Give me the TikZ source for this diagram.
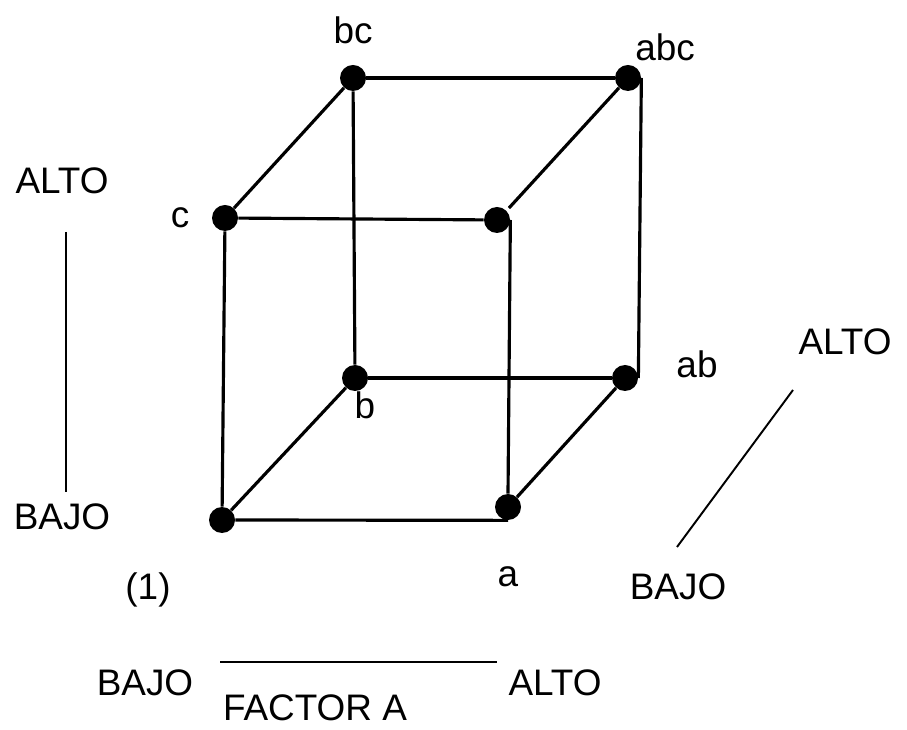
\documentclass[tikz,border=0pt]{standalone}
\usepackage{fontspec}
\setmainfont{Liberation Sans}
\usepackage{tikz}

\begin{document}
\begin{tikzpicture}[
    dot/.style={circle, fill=black, inner sep=0pt, minimum size=5.2mm},
    edge/.style={line width=1.8pt, black},
    axis/.style={line width=1.1pt, black},
    txt/.style={font=\fontsize{21}{25}\selectfont, inner sep=0pt}]
  \useasboundingbox (0,0) rectangle (18.14,14.58);
  % corners of the cube
  \node[dot] (n1)   at (4.44,4.18)  {};
  \node[dot] (na)   at (10.16,4.44) {};
  \node[dot] (nc)   at (4.50,10.22) {};
  \node[dot] (nac)  at (9.94,10.18) {};
  \node[dot] (nb)   at (7.10,7.02)  {};
  \node[dot] (nab)  at (12.50,7.02) {};
  \node[dot] (nbc)  at (7.06,13.02) {};
  \node[dot] (nabc) at (12.56,13.02) {};
  % edges
  \draw[edge] (n1.east) -- (na.south);
  \draw[edge] (n1) -- (nc);
  \draw[edge] (n1) -- (nb);
  \draw[edge] (na) -- (nab);
  \draw[edge] (na.north) -- (nac.east);
  \draw[edge] (nc) -- (nac);
  \draw[edge] (nc) -- (nbc);
  \draw[edge] (nac.north east) ++(0.05,0.05) -- (nabc);
  \draw[edge] (nb) -- (nab);
  \draw[edge] (nb) -- (nbc);
  \draw[edge] (nabc.east) -- (nab.east);
  \draw[edge] (nbc) -- (nabc);
  % labels of the corners
  \node[txt] (l1)   at (2.96,2.78)  {(1)};
  \node[txt] (la)   at (10.16,3.04) {a};
  \node[txt] (lb)   at (7.30,6.48)  {b};
  \node[txt] (lc)   at (3.60,10.22) {c};
  \node[txt] (lbc)  at (7.06,13.98) {bc};
  \node[txt] (labc) at (13.30,13.64) {abc};
  \node[txt] (lab)  at (13.94,7.30) {ab};
  % factor C (vertical)
  \node[txt] (altoC) at (1.24,10.96) {ALTO};
  \node[txt] (bajoC) at (1.24,4.24)  {BAJO};
  \coordinate (cTop) at (1.32,9.94);
  \coordinate (cBot) at (1.32,4.74);
  \draw[axis] (cTop) -- (cBot);
  % factor A (horizontal)
  \node[txt] (bajoA) at (2.90,0.92)  {BAJO};
  \node[txt] (altoA) at (11.10,0.92) {ALTO};
  \node[txt] (factA) at (6.30,0.42)  {FACTOR A};
  \coordinate (aLeft)  at (4.40,1.34);
  \coordinate (aRight) at (9.94,1.34);
  \draw[axis] (aLeft) -- (aRight);
  % factor B (depth)
  \node[txt] (altoB) at (16.90,7.74) {ALTO};
  \node[txt] (bajoB) at (13.56,2.84) {BAJO};
  \coordinate (bTop) at (15.86,6.78);
  \coordinate (bBot) at (13.54,3.64);
  \draw[axis] (bTop) -- (bBot);
\end{tikzpicture}
\end{document}
